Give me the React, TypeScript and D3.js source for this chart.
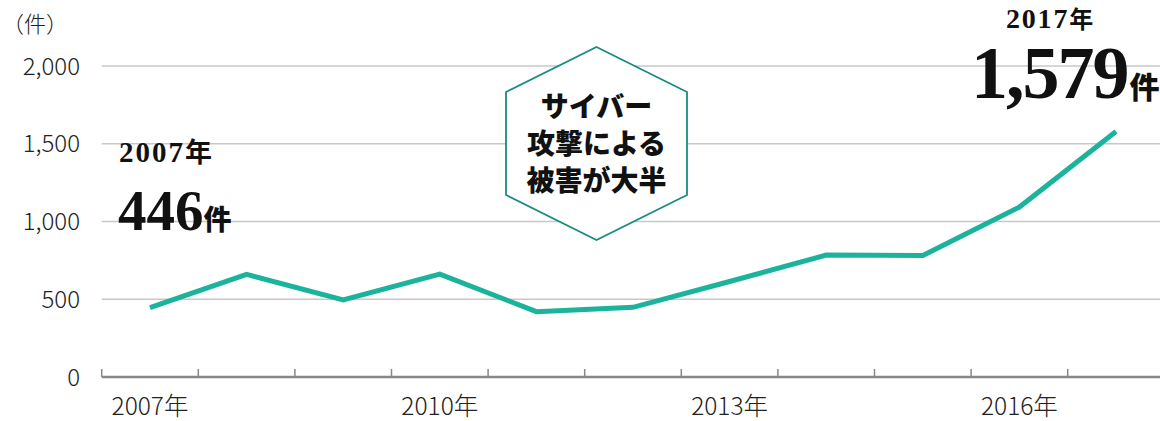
import React from "react";
import * as d3 from "d3";

const years = [2007, 2008, 2009, 2010, 2011, 2012, 2013, 2014, 2015, 2016, 2017];
const counts = [446, 660, 495, 662, 420, 448, 614, 784, 781, 1093, 1579];
const yTicks = [0, 500, 1000, 1500, 2000];
const xLabelYears = [2007, 2010, 2013, 2016];
const calloutLines = ["サイバー", "攻撃による", "被害が大半"];

const W = 1160;
const H = 421;

export default function App() {
  const x = d3.scaleBand<number>().domain(years).range([101.7, 1164.3]).padding(0);
  const y = d3.scaleLinear().domain([0, 2000]).range([377, 66]);
  const cx = (v: number) => (x(v) as number) + x.bandwidth() / 2;
  const line = d3
    .line<number>()
    .x((_, i) => cx(years[i]))
    .y((d) => y(d));

  const gothic = "'Noto Sans CJK JP', 'Noto Sans', sans-serif";
  const serif = "'Liberation Serif', 'DejaVu Serif', serif";

  const hexCx = 596.5;
  const hexPts = [
    [hexCx, 47],
    [687, 92],
    [687, 195],
    [hexCx, 240],
    [506, 195],
    [506, 92],
  ];

  const tickPositions = years.map((yr) => x(yr) as number);
  const fmt = d3.format(",");

  return (
    <svg width={W} height={H} style={{ position: "absolute", left: 0, top: 0, background: "#fff" }}>
      {yTicks
        .filter((t) => t > 0)
        .map((t) => (
          <line key={t} x1={101.7} x2={W} y1={y(t)} y2={y(t)} stroke="#c8c8c8" strokeWidth={1.5} />
        ))}
      {yTicks.map((t) => (
        <text
          key={"yl" + t}
          x={80}
          y={y(t)}
          dy="0.36em"
          textAnchor="end"
          fontFamily={gothic}
          fontWeight={300}
          fontSize={24}
          fill="#222"
        >
          {fmt(t)}
        </text>
      ))}
      <text x={2} y={32} fontFamily={gothic} fontWeight={300} fontSize={22} fill="#222">
        （件）
      </text>
      <line x1={101.7} x2={W} y1={377} y2={377} stroke="#888" strokeWidth={2.5} />
      {tickPositions.map((p, i) => (
        <line key={"tk" + i} x1={p} x2={p} y1={369} y2={377} stroke="#888" strokeWidth={1.5} />
      ))}
      {xLabelYears.map((yr) => (
        <text
          key={"xl" + yr}
          x={cx(yr)}
          y={415}
          textAnchor="middle"
          fontFamily={gothic}
          fontWeight={300}
          fontSize={24.5}
          fill="#222"
        >
          {yr}年
        </text>
      ))}
      <path d={line(counts) || ""} fill="none" stroke="#1bb39b" strokeWidth={5} strokeLinejoin="miter" />

      <polygon points={hexPts.map((p) => p.join(",")).join(" ")} fill="#fff" stroke="#1a8c7c" strokeWidth={1.8} />
      {calloutLines.map((s, i) => (
        <text
          key={"c" + i}
          x={hexCx}
          y={117 + i * 37}
          textAnchor="middle"
          fontFamily={gothic}
          fontWeight={900}
          fontSize={28}
          fill="#111"
        >
          {s}
        </text>
      ))}

      {/* 2007 annotation */}
      <text x={119} y={162} fontFamily={serif} fontWeight={700} fontSize={29} letterSpacing={2} fill="#111">
        {years[0]}
        <tspan fontFamily={gothic} fontWeight={700} fontSize={27} letterSpacing={0}>年</tspan>
      </text>
      <text x={118} y={230} fontFamily={serif} fontWeight={700} fontSize={57} fill="#111">
        {fmt(counts[0])}
        <tspan fontFamily={gothic} fontWeight={900} fontSize={28}>件</tspan>
      </text>

      {/* 2017 annotation */}
      <text x={1006} y={28} fontFamily={serif} fontWeight={700} fontSize={28} letterSpacing={1.8} fill="#111">
        {years[years.length - 1]}
        <tspan fontFamily={gothic} fontWeight={700} fontSize={24} letterSpacing={0}>年</tspan>
      </text>
      <text x={971} y={98} fontFamily={serif} fontWeight={700} fontSize={74} letterSpacing={-2} fill="#111">
        {fmt(counts[counts.length - 1])}
        <tspan fontFamily={gothic} fontWeight={900} fontSize={30} letterSpacing={0} dx={2}>件</tspan>
      </text>
    </svg>
  );
}
